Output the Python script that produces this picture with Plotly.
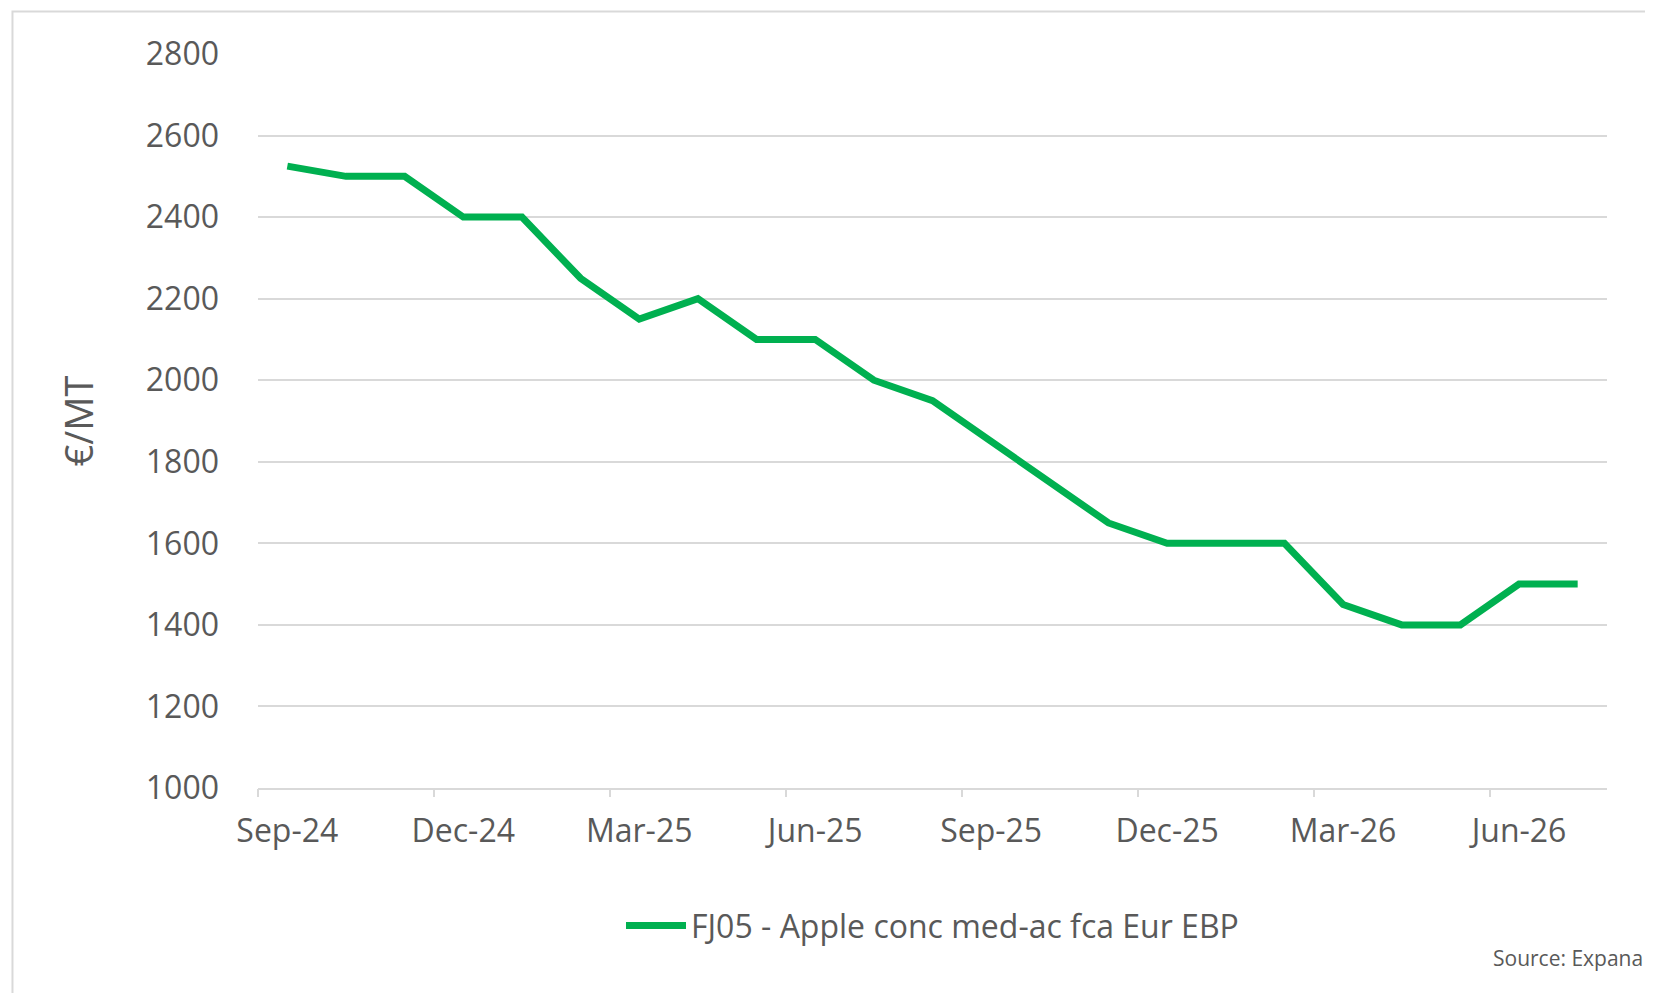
import plotly.graph_objects as go

months = ['Sep-24','Oct-24','Nov-24','Dec-24','Jan-25','Feb-25','Mar-25','Apr-25','May-25','Jun-25',
	'Jul-25','Aug-25','Sep-25','Oct-25','Nov-25','Dec-25','Jan-26','Feb-26','Mar-26','Apr-26',
	'May-26','Jun-26','Jul-26']
prices = [2525,2500,2500,2400,2400,2250,2150,2200,2100,2100,2000,1950,1850,1750,1650,1600,1600,1600,
	1450,1400,1400,1500,1500]
series_name = 'FJ05 - Apple conc med-ac fca Eur EBP'

idx = list(range(len(months)))
label_idx = idx[::3]
font = dict(family='Open Sans, Lato, sans-serif', color='#595959')

fig = go.Figure()
fig.add_trace(go.Scatter(x=idx, y=prices, mode='lines', name=series_name,
	line=dict(color='#00B050', width=7)))
# invisible trace carrying the boundary tick marks
fig.add_trace(go.Scatter(x=[-0.5], y=[1000], xaxis='x2', mode='markers',
	marker=dict(opacity=0), showlegend=False, hoverinfo='skip'))

fig.update_layout(
	width=1653, height=993,
	paper_bgcolor='white', plot_bgcolor='white',
	margin=dict(l=250, r=54, t=46, b=213),
	font=dict(size=32, **font),
	xaxis=dict(range=[-0.5, 22.5], tickvals=label_idx, ticktext=[months[i] for i in label_idx],
		showgrid=False, zeroline=False, showline=True, linecolor='#d9d9d9', linewidth=2,
		ticks='', ticklabelstandoff=14),
	xaxis2=dict(overlaying='x', range=[-0.5, 22.5], tickvals=[i - 0.5 for i in label_idx],
		showticklabels=False, ticks='outside', ticklen=8, tickcolor='#d9d9d9', tickwidth=2,
		showgrid=False, zeroline=False, side='bottom'),
	yaxis=dict(range=[1000, 2800], dtick=200, gridcolor='#d9d9d9', gridwidth=2, zeroline=False,
		title=dict(text='€/MT', standoff=40), ticklabelstandoff=38),
	legend=dict(orientation='h', x=0.5, xanchor='center', y=-0.15, yanchor='top',
		itemwidth=60, font=dict(size=32, **font)),
	annotations=[dict(text='Source: Expana', xref='paper', yref='paper', x=1.028, y=-0.232,
		xanchor='right', yanchor='middle', showarrow=False, font=dict(size=21, **font))],
	shapes=[dict(type='rect', xref='paper', yref='paper', x0=-0.182, x1=1.036, y0=-0.285, y1=1.058,
		line=dict(color='#d9d9d9', width=2))],
)
fig.write_html('out.html')
